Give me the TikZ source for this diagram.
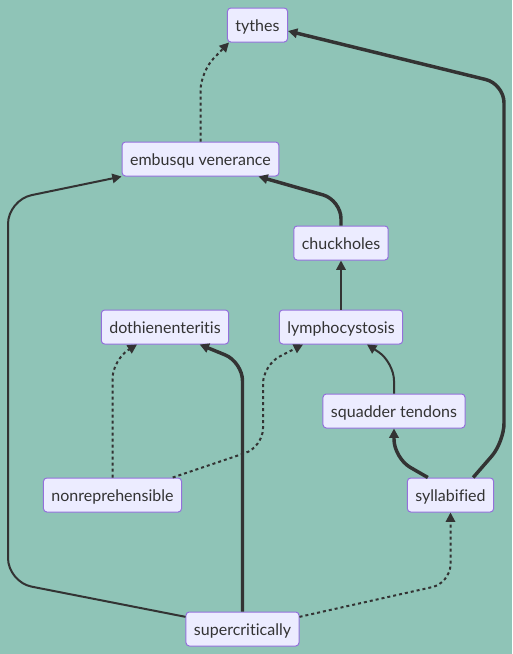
\documentclass[tikz,border=0pt]{standalone}
\usepackage{fontspec}
\setmainfont{Lato}[Ligatures=NoCommon]
\usetikzlibrary{arrows.meta}
\definecolor{bgteal}{HTML}{8FC4B7}
\definecolor{boxfill}{HTML}{ECECFF}
\definecolor{boxline}{HTML}{9370DB}
\definecolor{inkgray}{HTML}{333333}
\begin{document}
\begin{tikzpicture}[x=0.75pt, y=-0.75pt,
    box/.style={draw=boxline, fill=boxfill, line width=0.75pt, rounded corners=2.5pt,
        minimum height=25.5pt, inner xsep=6pt, text height=9pt, text depth=0pt,
        text=inkgray, font=\fontsize{12pt}{14pt}\selectfont},
    link/.style={draw=inkgray, line width=1.5pt, rounded corners=14pt,
        -{Triangle[length=7pt,width=7pt]}},
    heavy/.style={link, line width=2.6pt},
    dotty/.style={link, dash pattern=on 2.25pt off 2.25pt}]
            %\draw[lightgray] (0, 0) grid (512, 654);
            \path[use as bounding box, fill=bgteal] (0, 0) rectangle (512, 654);

            \node[box] (tyt) at (257.5, 25) {tythes};
            \node[box] (emb) at (200.5, 159) {embusqu venerance};
            \node[box] (chu) at (341, 243) {chuckholes};
            \node[box] (dot) at (165, 327) {dothienenteritis};
            \node[box] (lym) at (341, 327) {lymphocystosis};
            \node[box] (squ) at (394, 411) {squadder tendons};
            \node[box] (non) at (112.5, 495) {nonreprehensible};
            \node[box] (syl) at (450.5, 495) {syllabified};
            \node[box] (sup) at (242.5, 629) {supercritically};

            \draw[dotty] (emb.north) -- (200.5, 72) -- ([xshift=1.5pt]tyt.south west);
            \draw[heavy] ([xshift=17pt]syl.north) -- (504, 442) -- (504, 84) [rounded corners=20pt] -- ([yshift=-4.5pt]tyt.east);
            \draw[link, rounded corners=18pt] ([yshift=-4pt]sup.north west) -- (8, 582) -- (8, 200) -- (emb.south west);
            \draw[heavy] (chu.north) -- (341, 200) -- ([xshift=-15.75pt]emb.south east);
            \draw[link] (lym.north) -- (chu.south);
            \draw[dotty] (non.north) -- (112.5, 360) -- ([xshift=-21pt]dot.south);
            \draw[heavy] (sup.north) -- (242.5, 362) -- ([xshift=26pt]dot.south);
            \draw[dotty] ([xshift=-7pt]non.north east) -- (263, 447) -- (263, 365) -- ([xshift=-28.5pt]lym.south);
            \draw[link] (squ.north) -- (394, 362) -- ([xshift=19.5pt]lym.south);
            \draw[heavy] ([xshift=-17pt]syl.north) -- (394, 458) -- (squ.south);
            \draw[dotty] ([yshift=-4pt]sup.north east) -- (450.5, 583) -- (syl.south);
\end{tikzpicture}
\end{document}
